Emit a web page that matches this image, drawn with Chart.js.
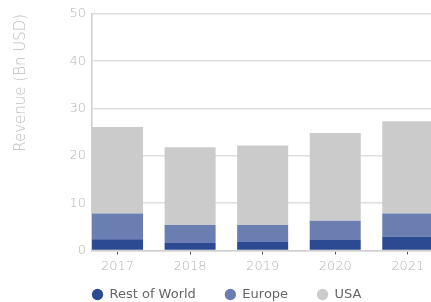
<!DOCTYPE html>
<html lang="en">
  <head>
    <meta charset="UTF-8">
    <title>Revenue by region</title>
    <script src="https://cdn.jsdelivr.net/npm/chart.js@4"></script>
    <style>
      html, body { margin: 0; padding: 0; background: #fff; }
      #wrap { width: 431px; height: 302px; }
    </style>
  </head>
  <body>
    <div id="wrap"><canvas id="chart"></canvas></div>
    <script type="text/javascript">
      const years = ['2017', '2018', '2019', '2020', '2021']
      const restOfWorld = [2.4, 1.6, 1.8, 2.2, 2.9]
      const europe = [5.4, 3.8, 3.6, 4.1, 4.9]
      const usa = [18.3, 16.4, 16.8, 18.5, 19.5]
      const yTicks = [0, 10, 20, 30, 40, 50]

      const toPoints = arr => arr.map((v, i) => ({ x: i, y: v }))

      // legend starts at the plot's left edge and sits near the bottom, like the original
      const legendShift = {
        id: 'legendShift',
        afterLayout(chart) {
          const lg = chart.legend
          lg.left = chart.chartArea.left - lg.options.labels.padding
          lg.top = chart.height - 43
        }
      }

      const ctx = document.getElementById('chart').getContext('2d')
      const chart = new Chart(ctx, {
        type: 'bar',
        plugins: [legendShift],
        data: {
          datasets: [
            { label: 'Rest of World', backgroundColor: '#2b4a92', data: toPoints(restOfWorld) },
            { label: 'Europe', backgroundColor: '#6b7eb2', data: toPoints(europe) },
            { label: 'USA', backgroundColor: '#cbcbcb', data: toPoints(usa) }
          ]
        },
        options: {
          responsive: true,
          maintainAspectRatio: false,
          animation: false,
          categoryPercentage: 1,
          barPercentage: 0.703,
          layout: { padding: { top: 10, right: 0, left: 0, bottom: 0 } },
          plugins: {
            tooltip: { enabled: false },
            legend: {
              position: 'bottom',
              align: 'start',
              fullSize: false,
              maxHeight: 12,
              labels: {
                usePointStyle: true,
                pointStyle: 'circle',
                boxWidth: 11,
                boxHeight: 8,
                padding: 29,
                color: '#666',
                font: { family: 'DejaVu Sans', size: 13 }
              }
            }
          },
          scales: {
            x: {
              type: 'linear',
              stacked: true,
              min: -0.352,
              max: 4.32,
              offset: false,
              grid: { offset: false, drawOnChartArea: false, drawTicks: true, tickLength: 4, tickColor: '#555', tickWidth: 1 },
              border: { color: '#d0d0d0', width: 1.5 },
              afterFit: axis => { axis.height = 39.5 },
              ticks: {
                stepSize: 1,
                includeBounds: false,
                autoSkip: false,
                maxRotation: 0,
                color: '#b4b4b4',
                padding: 4,
                font: { family: 'DejaVu Sans', size: 13, weight: 300 },
                callback: v => Number.isInteger(v) ? years[v] : ''
              }
            },
            y: {
              stacked: true,
              min: 0,
              max: 50,
              grid: { color: '#dedede', lineWidth: 1.5, drawTicks: false },
              border: { color: '#d0d0d0', width: 1.5 },
              afterBuildTicks: axis => { axis.ticks = yTicks.map(v => ({ value: v })) },
              afterFit: axis => { axis.width = 92 },
              ticks: {
                color: '#b4b4b4',
                padding: 6,
                font: { family: 'DejaVu Sans', size: 13, weight: 300 }
              },
              title: {
                display: true,
                text: 'Revenue (Bn USD)',
                align: 'end',
                color: '#bdbdbd',
                padding: { top: 12, bottom: 0 },
                font: { family: 'DejaVu Sans', size: 15, weight: 300 }
              }
            }
          }
        }
      })
    </script>
  </body>
</html>
